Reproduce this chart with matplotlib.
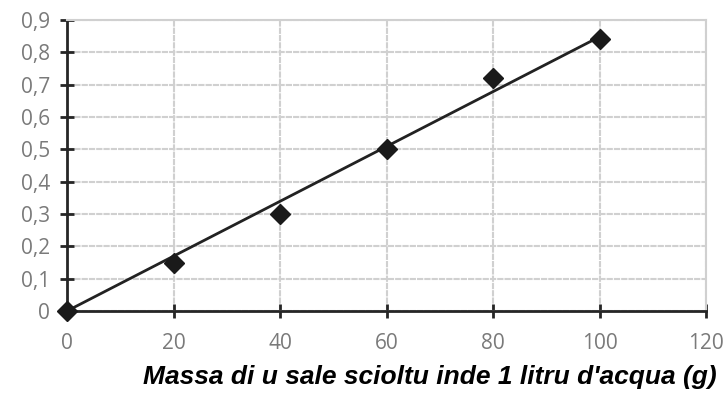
import matplotlib
matplotlib.use('Agg')
import matplotlib.pyplot as plt
import numpy as np

mass = [0, 20, 40, 60, 80, 100]
value = [0, 0.15, 0.30, 0.50, 0.72, 0.84]
xticks = [0, 20, 40, 60, 80, 100, 120]
yticks = [0, 0.1, 0.2, 0.3, 0.4, 0.5, 0.6, 0.7, 0.8, 0.9]
ytick_labels = ['0', '0,1', '0,2', '0,3', '0,4', '0,5', '0,6', '0,7', '0,8', '0,9']
xlabel = "Massa di u sale scioltu inde 1 litru d'acqua (g)"

# linear trend line through origin, like the Excel one
x = np.array(mass, dtype=float)
y = np.array(value, dtype=float)
slope = (x * y).sum() / (x * x).sum()

fig = plt.figure(figsize=(7.25, 4), dpi=100)
ax = fig.add_axes([0.0924, 0.2225, 0.8816, 0.7275])

ax.plot([x[0], x[-1]], [0, slope * x[-1]], color='#222222', lw=2, zorder=3)
ax.plot(mass, value, 'D', color='#1a1a1a', ms=10.5, zorder=4, clip_on=False)

ax.set_xlim(0, 120)
ax.set_ylim(0, 0.9)
ax.set_xticks(xticks)
ax.set_yticks(yticks)
ax.set_yticklabels(ytick_labels)
ax.grid(True, color='#d0d0d0', lw=1.5, ls=(0, (3, 0.5)))
ax.set_axisbelow(True)

for s in ['top', 'right']:
    ax.spines[s].set_color('#d0d0d0')
    ax.spines[s].set_linewidth(1.5)
for s in ['left', 'bottom']:
    ax.spines[s].set_color('#262626')
    ax.spines[s].set_linewidth(2)

ax.tick_params(direction='inout', length=10, width=2, color='#262626',
               labelcolor='#7a7a7a', labelsize=15, pad=7)
ax.tick_params(axis='x', pad=11)
for lab in ax.get_xticklabels() + ax.get_yticklabels():
    lab.set_family('Open Sans')

fig.text(0.988, 0.028, xlabel, ha='right', va='bottom', fontsize=19,
         fontweight='bold', fontstyle='italic', family='Liberation Sans')

fig.savefig('out.png', dpi=100)
